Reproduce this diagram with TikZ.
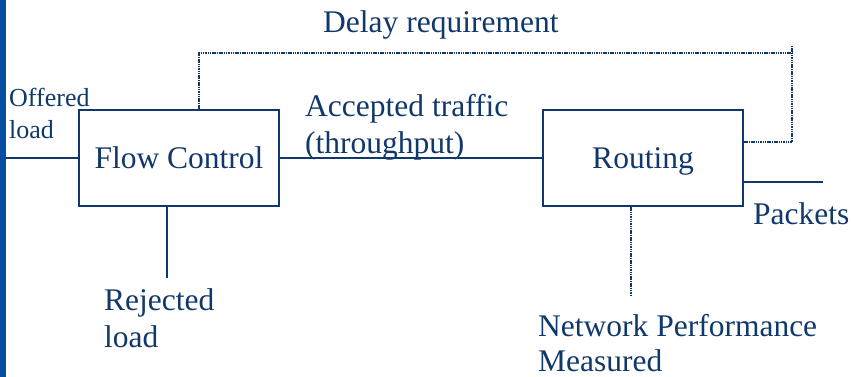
\documentclass[tikz,border=0pt]{standalone}
\usepackage{fontspec}
\setmainfont{Liberation Serif}
\definecolor{navy}{RGB}{16,56,106}
\definecolor{barblue}{RGB}{8,78,160}

\begin{document}
\begin{tikzpicture}[x=1pt,y=-1pt,
  blk/.style={draw=navy,line width=2.2pt,minimum width=200pt,minimum height=96pt,text=navy,inner sep=0pt,text depth=0pt,font=\fontsize{31.5}{34}\selectfont},
  lbl/.style={anchor=base west,inner sep=0pt,text=navy,font=\fontsize{31.5}{34}\selectfont},
  small/.style={lbl,font=\fontsize{26}{28}\selectfont},
  wire/.style={draw=navy,line width=1.8pt},
  dotwire/.style={draw=navy,line width=1.8pt,dash pattern={on 1.5pt off 0.8pt}}]

\useasboundingbox (0,0) rectangle (852,377);

%Shape: Bar [left edge]
\fill [barblue] (0,0) rectangle (6,377);

%Shape: Rectangle [flow control]
\node [blk] (flow) at (179,158) {Flow Control};
%Shape: Rectangle [routing]
\node [blk] (routing) at (643,158) {Routing};

%free ends
\coordinate (offer) at (6,158);
\coordinate (rej) at (167,278);
\coordinate (pkt) at (823,182);
\coordinate (meas) at (631,295);
\coordinate (dleft) at (199,53);
\coordinate (dcorner) at (792,53);
\coordinate (dtip) at (792,46);
\coordinate (dright) at (792,142);

%Straight Lines
\draw [wire] (offer) -- (flow.west);
\draw [wire] (flow.east) -- (routing.west);
\draw [wire] (rej |- flow.south) -- (rej);
\draw [wire] (routing.east |- pkt) -- (pkt);
%Dotted Lines
\draw [dotwire] (meas |- routing.south) -- (meas);
\draw [dotwire] (dleft |- flow.north) -- (dleft) -- (dcorner);
\draw [dotwire] (routing.east |- dright) -- (dright) -- (dtip);

% Text Node
\node [lbl] (delay) at (323,33) {Delay requirement};
% Text Node
\node [small] (offered) at (9,107) {Offered};
\node [small] (offeredb) at (9,139) {load};
% Text Node
\node [lbl] (accepted) at (305,117) {Accepted traffic};
\node [lbl] (acceptedb) at (305,154) {(throughput)};
% Text Node
\node [lbl] (packets) at (753,225) {Packets};
% Text Node
\node [lbl] (rejected) at (104,310) {Rejected};
\node [lbl] (rejectedb) at (104,347) {load};
% Text Node
\node [lbl] (network) at (538,336) {Network Performance};
\node [lbl] (networkb) at (538,371) {Measured};
\end{tikzpicture}
\end{document}
